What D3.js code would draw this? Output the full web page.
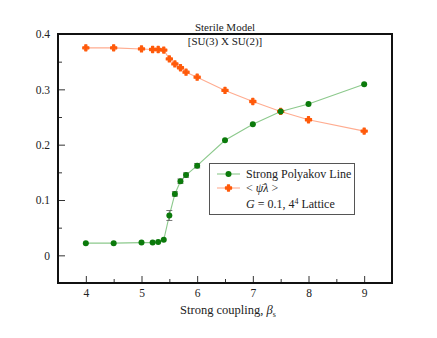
<!DOCTYPE html>
<html><head><meta charset="utf-8">
<script src="https://cdn.jsdelivr.net/npm/d3@7"></script>
<style>body{margin:0;background:#fff}svg{display:block}
svg text{font-family:"Liberation Serif","Times New Roman","DejaVu Serif",serif !important;fill:#222}</style>
</head><body>
<svg id="c" width="437" height="338" font-family="Liberation Serif, DejaVu Serif, serif"></svg>
<script>
const betas = [4, 4.5, 5, 5.2, 5.3, 5.4, 5.5, 5.6, 5.7, 5.8, 6, 6.5, 7, 7.5, 8, 9];
const polyakov = [0.022, 0.022, 0.023, 0.023, 0.024, 0.028, 0.072, 0.111, 0.134, 0.145, 0.162, 0.208, 0.237, 0.260, 0.2735, 0.309];
const polyakovErr = [0.001, 0.001, 0.001, 0.001, 0.001, 0.002, 0.009, 0.004, 0.004, 0.004, 0.004, 0.002, 0.002, 0.002, 0.002, 0.002];
const condensate = [0.375, 0.375, 0.373, 0.372, 0.372, 0.371, 0.355, 0.346, 0.339, 0.331, 0.322, 0.298, 0.278, 0.260, 0.245, 0.2245];
const xTicks = [4, 5, 6, 7, 8, 9];
const yTicks = [0, 0.1, 0.2, 0.3, 0.4];
const xMinor = [4.5, 5.5, 6.5, 7.5, 8.5];
const yMinor = [0.05, 0.15, 0.25, 0.35];

const FONT = "'Liberation Serif', 'DejaVu Serif', serif";
const svg = d3.select("#c");
const L = 58, R = 392, T = 34, B = 283;
const x = d3.scaleLinear().domain([3.5, 9.5]).range([L, R]);
const y = d3.scaleLinear().domain([-0.05, 0.4]).range([B, T]);

const gC = "#0b7a0b", gL = "#8cc98c", oC = "#ff5a0a", oL = "#ffac90";

svg.append("g").attr("transform", `translate(0,${B})`)
  .call(d3.axisBottom(x).tickValues(xTicks).tickSize(-7).tickPadding(6).tickFormat(d3.format("d")));
svg.append("g").attr("transform", `translate(0,${B})`)
  .call(d3.axisBottom(x).tickValues(xMinor).tickSize(-4).tickFormat(""));
svg.append("g").attr("transform", `translate(${L},0)`)
  .call(d3.axisLeft(y).tickValues(yTicks).tickSize(-7).tickPadding(8).tickFormat(d => d === 0 ? "0" : d3.format(".1f")(d)));
svg.append("g").attr("transform", `translate(${L},0)`)
  .call(d3.axisLeft(y).tickValues(yMinor).tickSize(-4).tickFormat(""));
svg.selectAll(".domain").remove();
svg.selectAll("g").attr("font-family", FONT);
svg.selectAll(".tick line").attr("stroke", "#333").attr("stroke-width", 1);
svg.selectAll(".tick text").style("font-size", "11.5px").attr("fill", "#333");

svg.append("rect").attr("x", L).attr("y", T).attr("width", R - L).attr("height", B - T)
  .attr("fill", "none").attr("stroke", "#111").attr("stroke-width", 2);

const line = (vals) => d3.line().x((d, i) => x(betas[i])).y(d => y(d))(vals);
svg.append("path").attr("d", line(condensate)).attr("fill", "none").attr("stroke", oL).attr("stroke-width", 1.1);
svg.append("path").attr("d", line(polyakov)).attr("fill", "none").attr("stroke", gL).attr("stroke-width", 1.1);

const eb = svg.append("g").attr("stroke", "#555").attr("stroke-width", 0.8);
betas.forEach((b, i) => {
  const e = polyakovErr[i];
  if (e < 0.003) return;
  const cx = x(b), y1 = y(polyakov[i] + e), y2 = y(polyakov[i] - e);
  eb.append("line").attr("x1", cx).attr("x2", cx).attr("y1", y1).attr("y2", y2);
  eb.append("line").attr("x1", cx - 3).attr("x2", cx + 3).attr("y1", y1).attr("y2", y1);
  eb.append("line").attr("x1", cx - 3).attr("x2", cx + 3).attr("y1", y2).attr("y2", y2);
});

const cross = d3.symbol().type(d3.symbolCross).size(20);
svg.append("g").selectAll("path").data(condensate).join("path")
  .attr("d", cross).attr("transform", (d, i) => `translate(${x(betas[i])},${y(d)})`)
  .attr("fill", oC).attr("stroke", oC).attr("stroke-width", 1.3).attr("stroke-linejoin", "round");
svg.append("g").selectAll("circle").data(polyakov).join("circle")
  .attr("cx", (d, i) => x(betas[i])).attr("cy", d => y(d)).attr("r", 3).attr("fill", gC);

const txt = (sel) => sel.attr("font-family", FONT);
txt(svg.append("text")).attr("x", 225).attr("y", 31).attr("text-anchor", "middle").style("font-size", "11px").text("Sterile Model");
txt(svg.append("text")).attr("x", 225).attr("y", 45).attr("text-anchor", "middle").style("font-size", "11px").text("[SU(3) X SU(2)]");

const xl = txt(svg.append("text")).attr("x", 228).attr("y", 314).attr("text-anchor", "middle").style("font-size", "12.5px");
xl.append("tspan").text("Strong coupling,  ");
xl.append("tspan").style("font-style", "italic").text("β");
xl.append("tspan").attr("dy", 3).style("font-size", "8px").text("s");

const lg = svg.append("g");
lg.append("rect").attr("x", 209.5).attr("y", 163.5).attr("width", 145).attr("height", 51)
  .attr("fill", "#fff").attr("stroke", "#555").attr("stroke-width", 1);
lg.append("line").attr("x1", 217).attr("x2", 240).attr("y1", 174).attr("y2", 174).attr("stroke", gL).attr("stroke-width", 1.1);
lg.append("circle").attr("cx", 228.5).attr("cy", 174).attr("r", 3).attr("fill", gC);
lg.append("line").attr("x1", 217).attr("x2", 240).attr("y1", 188).attr("y2", 188).attr("stroke", oL).attr("stroke-width", 1.1);
lg.append("path").attr("d", cross).attr("transform", "translate(228.5,188)").attr("fill", oC).attr("stroke", oC).attr("stroke-width", 1.3).attr("stroke-linejoin", "round");
txt(lg.append("text")).attr("x", 246).attr("y", 178).style("font-size", "12px").text("Strong Polyakov Line");
const t2 = txt(lg.append("text")).attr("x", 246).attr("y", 192).style("font-size", "12px");
t2.append("tspan").text("< ");
t2.append("tspan").style("font-style", "italic").text("ψ̄λ");
t2.append("tspan").text(" >");
const t3 = txt(lg.append("text")).attr("x", 246).attr("y", 208).style("font-size", "12px");
t3.append("tspan").style("font-style", "italic").text("G");
t3.append("tspan").text(" = 0.1,  4");
t3.append("tspan").attr("dy", -4).style("font-size", "8px").text("4");
t3.append("tspan").attr("dy", 4).text(" Lattice");
</script>
</body></html>
